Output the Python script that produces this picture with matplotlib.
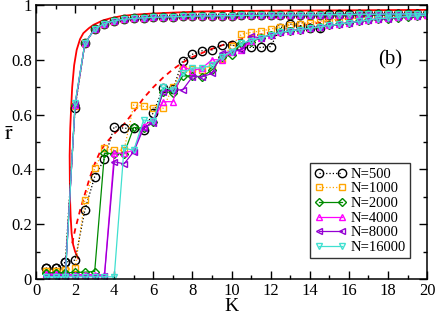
import numpy as np
import matplotlib.pyplot as plt
from matplotlib.ticker import MultipleLocator, FuncFormatter

plt.rcParams['font.family'] = ['Liberation Serif', 'DejaVu Serif']
plt.rcParams['mathtext.fontset'] = 'stix'

# ---- data ----
K = np.arange(0.5, 20.01, 0.5)

# forward sweep (lower branch)
r_fwd_500 = [.039, .039, .061, .069, .252, .373, .438, .556, .550, .550, .544, .607, .696, .692, .796, .820,
             .833, .836, .854, .854, .845, .845, .845, .848, .917, .930, .925, .916, .916, .967, .967, .966,
             .966, .966, .966, .967, .967, .967, .967, .967]
r_fwd_1000 = [.030, .030, .033, .041, .290, .404, .477, .470, .470, .635, .630, .625, .623, .700, .765, .765,
              .763, .780, .803, .850, .893, .900, .905, .912, .920, .927, .932, .935, .940, .945, .948, .950,
              .953, .955, .957, .958, .960, .962, .963, .965]
r_fwd_2000 = [.022, .022, .022, .024, .025, .027, .459, .457, .457, .553, .550, .574, .684, .680, .741, .741,
              .738, .763, .810, .817, .860, .865, .880, .890, .900, .905, .910, .915, .920, .925, .930, .935,
              .940, .945, .948, .950, .952, .955, .958, .962]
r_fwd_4000 = [.017, .017, .016, .016, .016, .016, .015, .459, .459, .470, .560, .580, .647, .647, .775, .760,
              .770, .800, .800, .830, .836, .870, .880, .890, .900, .905, .910, .915, .920, .925, .930, .935,
              .940, .945, .950, .952, .955, .958, .960, .963]
r_fwd_8000 = [.011, .011, .011, .011, .011, .011, .011, .428, .420, .465, .550, .570, .684, .690, .690, .738,
              .738, .750, .824, .830, .836, .885, .880, .890, .900, .905, .910, .915, .920, .925, .930, .935,
              .940, .945, .948, .950, .955, .958, .960, .963]
r_fwd_16000 = [.008, .008, .008, .008, .008, .008, .008, .008, .477, .470, .580, .575, .700, .690, .750, .770,
               .770, .780, .810, .830, .860, .870, .880, .890, .900, .905, .910, .915, .920, .925, .930, .935,
               .940, .945, .950, .952, .955, .958, .960, .963]

# backward sweep (upper branch), K = 2.5 ... 20 shared by all sizes
r_bwd_tail = [.860, .912, .932, .942, .948, .951, .953, .955, .956, .957, .958, .959, .960, .960, .961, .961,
              .962, .962, .962, .963, .963, .963, .964, .964, .964, .965, .965, .965, .966, .966, .966, .967,
              .967, .967, .967, .968]
r_bwd_500 = [.039, .039, .061, .625] + r_bwd_tail
r_bwd_1000 = [.030, .030, .033, .630] + r_bwd_tail
r_bwd_2000 = [.022, .022, .022, .635] + r_bwd_tail
r_bwd_4000 = [.017, .017, .016, .635] + r_bwd_tail
r_bwd_8000 = [.011, .011, .011, .640] + r_bwd_tail
r_bwd_16000 = [.008, .008, .008, .642] + r_bwd_tail

# theory: solid (C-shaped, saddle node near K=1.72) and dashed branch
K_th = [2.16, 2.0, 1.9, 1.82, 1.77, 1.74, 1.73, 1.72, 1.75, 1.8, 1.85, 1.95, 2.08, 2.25, 2.42, 2.7, 2.93,
        3.4, 3.79, 4.4, 4.98, 6, 7, 8.4, 10, 12, 15, 20]
r_th = [.075, .10, .125, .167, .23, .29, .36, .45, .55, .63, .70, .78, .836, .875, .897, .915, .927,
        .943, .951, .960, .964, .969, .972, .976, .978, .979, .980, .982]
K_dash = [1.85, 2.0, 2.25, 2.5, 2.75, 3.0, 3.25, 3.5, 4, 4.5, 5, 5.5, 6, 6.5, 7, 7.5, 8, 9, 10, 11, 12,
          13, 14, 15, 16, 17, 18, 19, 20]
r_dash = [.13, .18, .25, .31, .37, .42, .46, .49, .53, .565, .61, .66, .70, .735, .765, .79, .81, .84,
          .865, .885, .90, .915, .93, .94, .95, .955, .96, .965, .968]

sizes = ['500', '1000', '2000', '4000', '8000', '16000']
fwd = [r_fwd_500, r_fwd_1000, r_fwd_2000, r_fwd_4000, r_fwd_8000, r_fwd_16000]
bwd = [r_bwd_500, r_bwd_1000, r_bwd_2000, r_bwd_4000, r_bwd_8000, r_bwd_16000]
colors = ['black', '#ffa500', '#008b00', '#ff00ff', '#9400d3', '#40e0d0']
markers = ['o', 's', 'D', '^', '<', 'v']
msizes = [6.0, 5.0, 4.2, 5.0, 5.0, 5.0]
lstyles = [':', ':', '-', '-', '-', '-']

fig = plt.figure(figsize=(4.36, 3.15), dpi=100)
ax = fig.add_axes([0.0826, 0.1143, 0.897, 0.870])

ax.plot(K_th, r_th, '-', color='red', lw=1.3, zorder=1)
ax.plot(K_dash, r_dash, '--', color='red', lw=1.3, dashes=(3, 2.5), zorder=1)

handles = []
for n, f, b, c, m, ms, ls in zip(sizes, fwd, bwd, colors, markers, msizes, lstyles):
    kw = dict(color=c, ls=ls, lw=0.9, marker=m, ms=ms, mfc='none', mec=c, mew=1.0)
    h, = ax.plot(K, f, **kw)
    ax.plot(K, b, **kw)
    handles.append(h)

ax.set_xlim(0, 20)
ax.set_ylim(0, 1)
ax.xaxis.set_major_locator(MultipleLocator(2))
ax.xaxis.set_minor_locator(MultipleLocator(1))
ax.yaxis.set_major_locator(MultipleLocator(0.2))
ax.yaxis.set_minor_locator(MultipleLocator(0.1))
ax.yaxis.set_major_formatter(FuncFormatter(lambda v, p: '%g' % round(v, 1)))
ax.tick_params(which='both', direction='in', top=True, right=True, labelsize=12, width=1.0)
ax.tick_params(which='major', length=6, pad=3)
ax.tick_params(which='minor', length=3)
for s in ax.spines.values():
    s.set_linewidth(1.1)

ax.set_xlabel('K', fontsize=14)
ax.xaxis.set_label_coords(0.5, -0.068)
ax.set_ylabel(r'$\bar{\mathrm{r}}$', fontsize=16, rotation=0, labelpad=2)
ax.yaxis.set_label_coords(-0.07, 0.49)

ax.text(18.1, 0.80, '(b)', fontsize=15, ha='center', va='center')

leg = ax.legend(handles, ['N=' + n for n in sizes], loc='lower left', bbox_to_anchor=(0.70, 0.075),
                fontsize=10.5, numpoints=2, handlelength=2.2, handletextpad=0.3, labelspacing=0.1,
                borderpad=0.3, borderaxespad=0, frameon=True, fancybox=False, edgecolor='black')
leg.get_frame().set_linewidth(1.0)

fig.savefig('out.png', dpi=100)
